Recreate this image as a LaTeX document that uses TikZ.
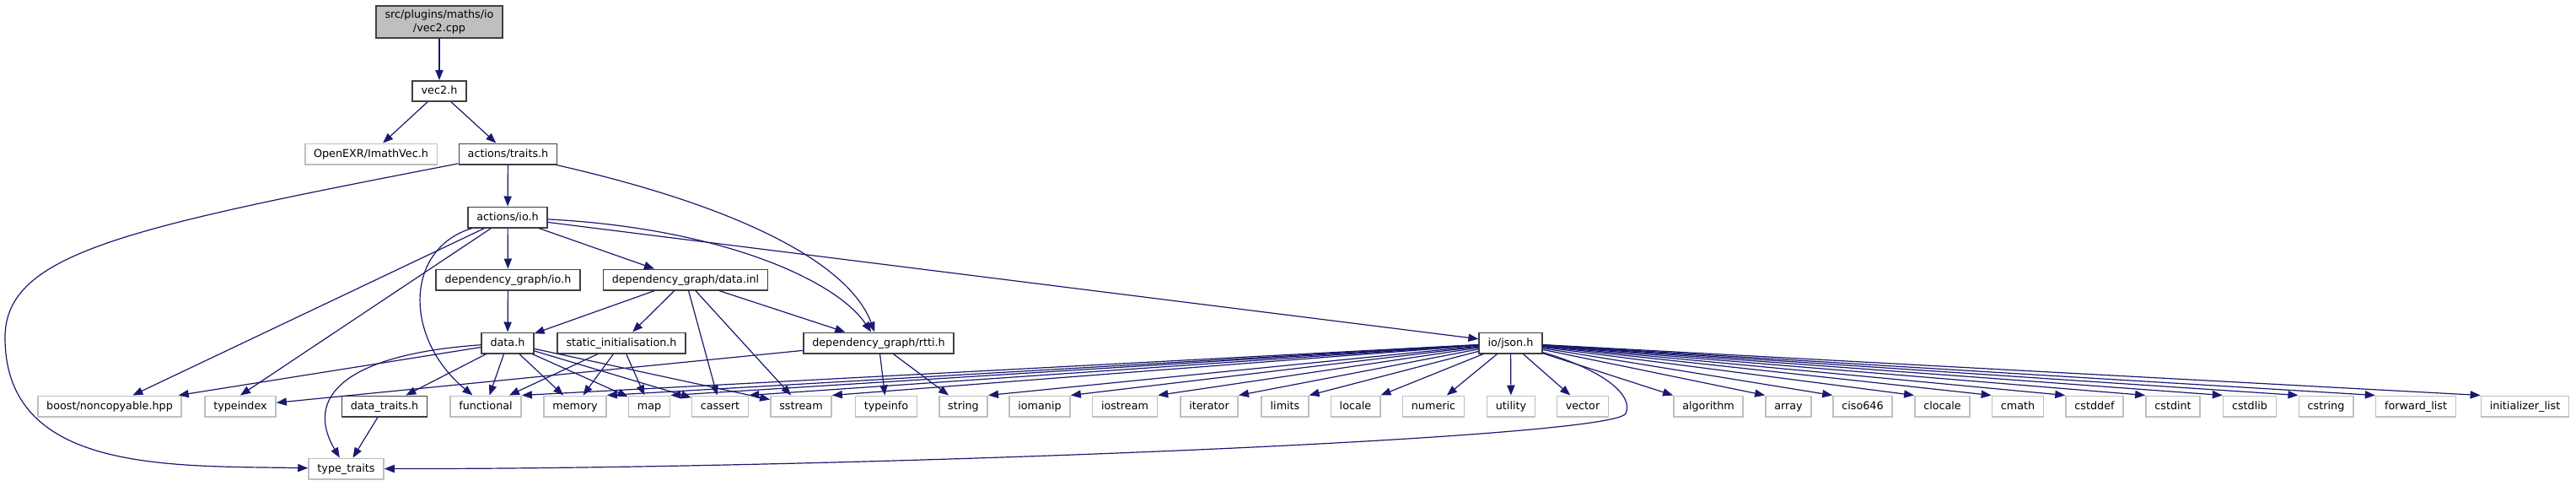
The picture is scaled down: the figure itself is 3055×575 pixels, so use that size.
\documentclass[tikz,border=0pt]{standalone}
\usepackage{fontspec}
\setmainfont{DejaVu Sans}
\usetikzlibrary{arrows.meta}
\definecolor{edgeblue}{HTML}{191970}
\definecolor{boxdark}{HTML}{404040}
\definecolor{boxgrey}{HTML}{BFBFBF}

\begin{document}
\begin{tikzpicture}[x=0.5pt, y=-0.5pt,
  box/.style={draw=boxdark, fill=white, line width=0.8pt, inner xsep=5.2pt, inner ysep=0pt,
              font=\fontsize{6.375}{7.7}\selectfont},
  hdr/.style={box, minimum height=12.2pt, text height=5.1pt, text depth=1.4pt},
  sys/.style={hdr, draw=boxgrey},
  inc/.style={draw=edgeblue, line width=0.6pt, -{Triangle[length=6pt,width=4.6pt]}}]
  \useasboundingbox (0,0) rectangle (3055,575);
  % project headers
  \node[box, fill=boxgrey, align=center, minimum height=19.2pt] (vcpp) at (521,26) {src/plugins/maths/io\\/vec2.cpp};
  \node[hdr] (vech) at (521,108) {vec2.h};
  \node[sys] (exr) at (440,182.5) {OpenEXR/ImathVec.h};
  \node[hdr] (traits) at (602.5,182.5) {actions/traits.h};
  \node[hdr] (aio) at (602,257.5) {actions/io.h};
  \node[hdr] (dgio) at (602.5,331.5) {dependency\_graph/io.h};
  \node[hdr] (dgdata) at (813,331.5) {dependency\_graph/data.inl};
  \node[hdr] (datah) at (602,406.5) {data.h};
  \node[hdr] (statinit) at (737,406.5) {static\_initialisation.h};
  \node[hdr] (rtti) at (1042,406.5) {dependency\_graph/rtti.h};
  \node[hdr] (json) at (1791.5,406.5) {io/json.h};
  \node[hdr] (dtraits) at (456,481.5) {data\_traits.h};
  \node[sys] (ttraits) at (410.5,555.5) {type\_traits};
  % system headers, one row
  \foreach \n/\x/\t in {boost/130/{boost/noncopyable.hpp}, typeindex/285/typeindex, functional/576/functional,
      memory/682/memory, map/770/map, cassert/854/cassert, sstream/950/sstream, typeinfo/1051/typeinfo,
      string/1142.5/string, iomanip/1233/iomanip, iostream/1334/iostream, iterator/1434/iterator,
      limits/1524/limits, locale/1607.5/locale, numeric/1700/numeric, utility/1792/utility,
      vector/1877/vector, algorithm/2026/algorithm, array/2121/array, ciso646/2209/ciso646,
      clocale/2303.5/clocale, cmath/2393/cmath, cstddef/2484/cstddef, cstdint/2577/cstdint,
      cstdlib/2668/cstdlib, cstring/2758.5/cstring, fwdlist/2865/forward\_list, initlist/2994.5/initializer\_list}{
    \node[sys] (\n) at (\x,481.5) {\t}; }

  \foreach \a/\b in {vcpp/vech, vech/exr, vech/traits, traits/aio, aio/dgio, aio/dgdata, aio/boost,
      aio/json, dgio/datah, dgdata/datah, dgdata/statinit, dgdata/cassert, dgdata/sstream, dgdata/rtti,
      datah/boost, datah/dtraits, datah/functional, datah/memory, datah/map, datah/cassert, datah/sstream,
      statinit/functional, statinit/memory, statinit/map, rtti/typeindex, rtti/typeinfo, rtti/string,
      dtraits/ttraits}{
    \draw[inc] (\a) -- (\b); }
  \draw[inc] (aio) -- (typeindex.north);
  % io/json.h fans out over the whole row
  \foreach \b in {functional,memory,map,cassert,sstream,string,iomanip,iostream,iterator,limits,locale}{
    \draw[inc] (json) -- (\b.north east); }
  \foreach \b in {numeric,utility,vector}{
    \draw[inc] (json) -- (\b); }
  \foreach \b in {algorithm,array,ciso646,clocale,cmath,cstddef,cstdint,cstdlib,cstring,fwdlist,initlist}{
    \draw[inc] (json) -- (\b.north west); }

  % the curved ones
  \draw[inc] (traits) .. controls (150,270) and (6,300) .. (6,400) .. controls (6,560) and (200,552) .. (ttraits);
  \draw[inc] (traits) .. controls (900,250) and (1010,320) .. (rtti);
  \draw[inc] (aio) .. controls (850,270) and (990,330) .. (rtti);
  \draw[inc] (aio) .. controls (480,295) and (478,400) .. (functional);
  \draw[inc] (datah) .. controls (410,420) and (360,470) .. (ttraits);
  \draw[inc] (json) .. controls (1900,438) and (1938,468) .. (1928,490) .. controls (1915,520) and (1000,556) .. (ttraits);
\end{tikzpicture}
\end{document}
